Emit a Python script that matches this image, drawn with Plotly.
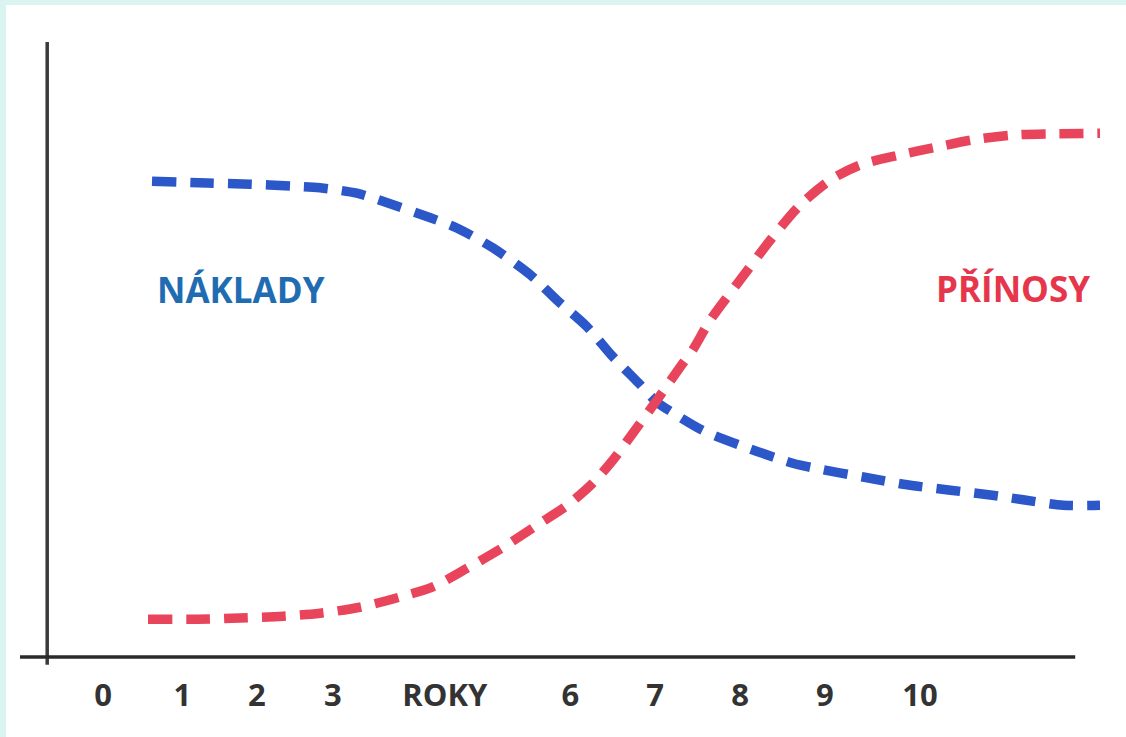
import plotly.graph_objects as go

# x in "years" units, y in arbitrary value units (0 = horizontal axis)
naklady_x = [0.65, 1.34, 1.88, 2.38, 2.75, 3.21, 3.48, 4.13, 4.46, 4.91, 5.38, 5.71, 6.09,
             6.40, 6.73, 6.96, 7.15, 7.53, 8.00, 8.66, 9.04, 9.54, 10.09, 10.63, 11.13,
             11.54, 12.04, 12.50]
naklady_y = [7.93, 7.90, 7.88, 7.85, 7.82, 7.73, 7.62, 7.32, 7.15, 6.82, 6.37, 5.95, 5.50,
             5.02, 4.57, 4.25, 4.08, 3.78, 3.53, 3.23, 3.12, 3.00, 2.87, 2.78, 2.70,
             2.62, 2.53, 2.53]

prinosy_x = [0.60, 1.21, 1.75, 2.29, 2.75, 3.25, 3.75, 4.16, 4.59, 5.04, 5.50, 5.84, 6.16,
             6.41, 6.66, 6.96, 7.25, 7.41, 7.63, 8.00, 8.38, 8.75, 9.13, 9.50, 10.00,
             10.46, 10.91, 11.41, 11.91, 12.50]
prinosy_y = [0.63, 0.63, 0.65, 0.68, 0.73, 0.83, 1.00, 1.17, 1.48, 1.83, 2.23, 2.53, 2.90,
             3.28, 3.73, 4.28, 4.83, 5.12, 5.62, 6.28, 6.95, 7.53, 7.95, 8.20, 8.37,
             8.50, 8.62, 8.70, 8.72, 8.73]

tick_vals = [0.04, 1.03, 1.96, 2.91, 4.31, 5.88, 6.94, 8.00, 9.06, 10.25]
tick_text = ["0", "1", "2", "3", "ROKY", "6", "7", "8", "9", "10"]

series_names = ["NÁKLADY", "PŘÍNOSY"]
label_pos = [(1.76, 6.12), (11.41, 6.15)]

BLUE = "#2b57c9"
RED = "#e8455c"
LABEL_BLUE = "#1f6cb3"
LABEL_RED = "#e6364c"

fig = go.Figure()
fig.add_trace(go.Scatter(x=naklady_x, y=naklady_y, mode="lines", name=series_names[0],
                         line=dict(color=BLUE, width=9.5, dash="24px,14px", shape="spline", smoothing=0.8)))
fig.add_trace(go.Scatter(x=prinosy_x, y=prinosy_y, mode="lines", name=series_names[1],
                         line=dict(color=RED, width=9.5, dash="24px,14px", shape="spline", smoothing=0.8)))

for name, (lx, ly), col in zip(series_names, label_pos, [LABEL_BLUE, LABEL_RED]):
    fig.add_annotation(x=lx, y=ly, text=name, showarrow=False,
                       font=dict(family="Open Sans", size=35, color=col, weight="bold"))

# hand-drawn style axes
fig.add_shape(type="line", x0=-0.66, x1=-0.66, y0=-0.13, y1=10.25,
              line=dict(color="#3a3a3a", width=3.5))
fig.add_shape(type="line", x0=-1.0, x1=12.19, y0=0, y1=0,
              line=dict(color="#2a2a2a", width=3.5))

# plot area from px x 6..1126, y 5..737
fig.update_layout(
    width=1126, height=737,
    margin=dict(l=6, r=0, t=5, b=0),
    paper_bgcolor="#daf4f1",
    plot_bgcolor="#ffffff",
    showlegend=False,
    xaxis=dict(range=[-1.175, 12.825], showgrid=False, zeroline=False, showline=False,
               tickvals=tick_vals, ticktext=tick_text, ticks="outside", ticklen=11,
               tickcolor="rgba(0,0,0,0)", anchor="free", position=(737 - 657) / 732,
               tickfont=dict(family="Open Sans", size=31, color="#333333", weight="bold"),
               fixedrange=True),
    yaxis=dict(range=[-1.333, 10.867], showgrid=False, zeroline=False, showline=False,
               showticklabels=False, ticks="", fixedrange=True),
)

fig.write_html("out.html", config={"displayModeBar": False},
               post_script="document.body.style.margin='0';document.body.style.overflow='hidden';")
